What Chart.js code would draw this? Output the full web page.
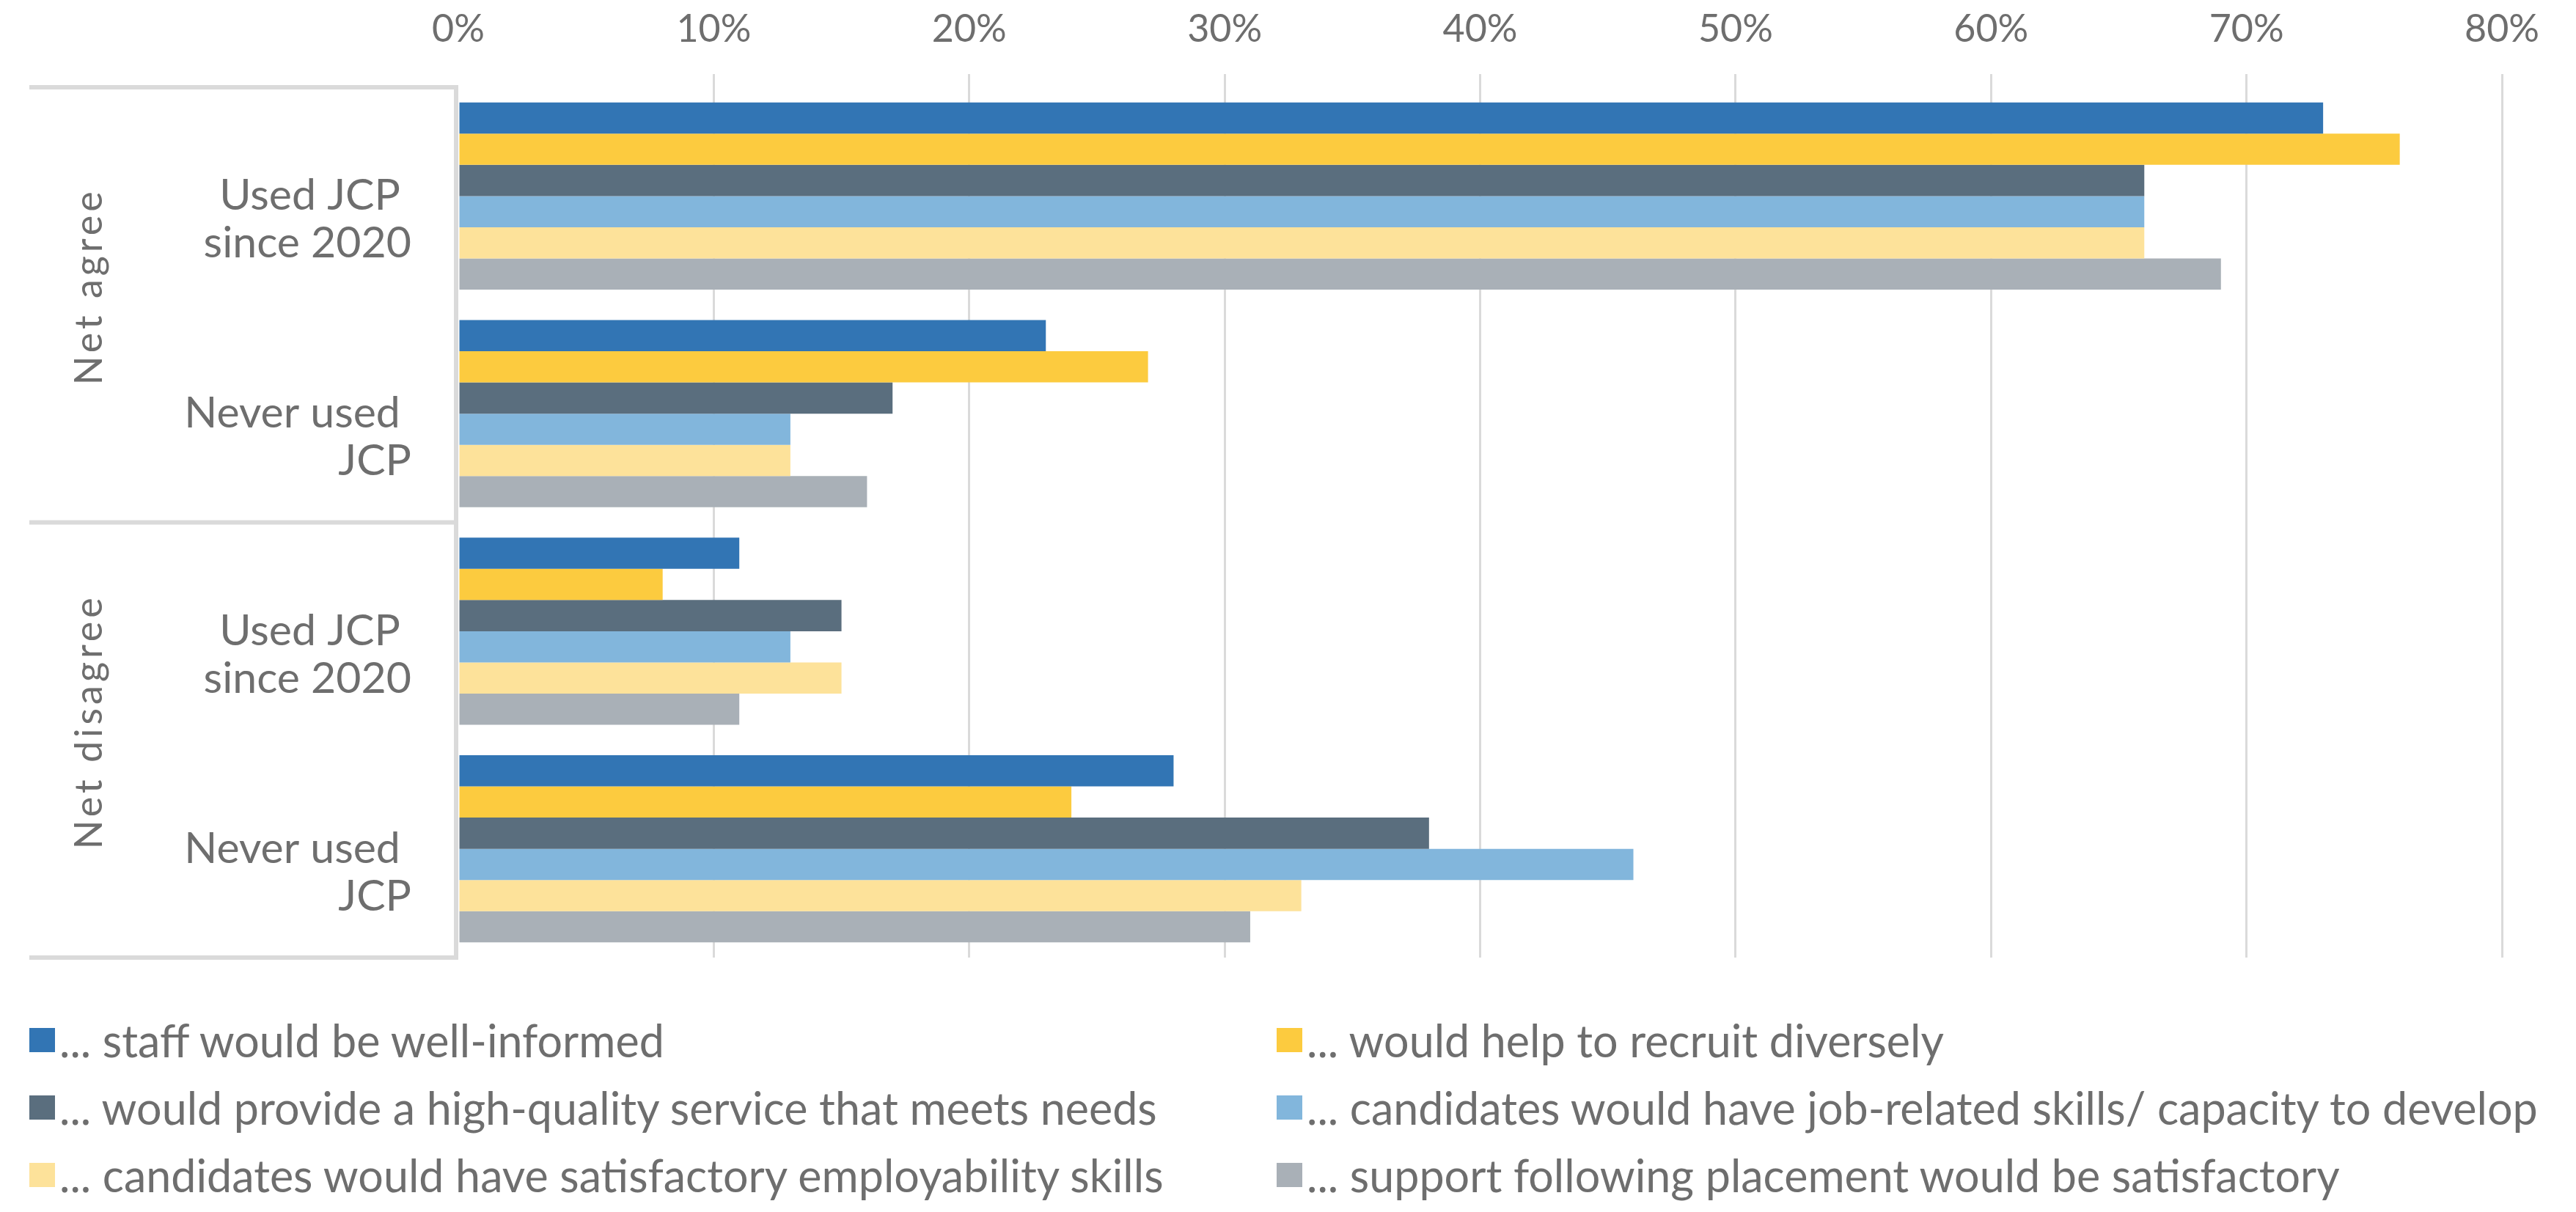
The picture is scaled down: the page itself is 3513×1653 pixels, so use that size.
<!DOCTYPE html>
<html>
<head>
<meta charset="utf-8">
<script src="https://cdn.jsdelivr.net/npm/chart.js@4.4.0/dist/chart.umd.min.js"></script>
<style>
    html, body { margin: 0; padding: 0; background: #fff; }
    body { width: 3513px; height: 1653px; position: relative; overflow: hidden; font-family: Lato, 'Open Sans', sans-serif; }
    #wrap { position: absolute; left: 0; top: 0; width: 3513px; height: 1320px; }
    #legend { position: absolute; left: 40px; top: 1372px; display: grid; grid-template-columns: 1701px auto; }
    .item { display: flex; align-items: center; height: 92px; font-size: 61px; color: #6e6e6e; white-space: nowrap; }
    .box { width: 35px; height: 33px; margin-right: 6px; flex: none; }
</style>
</head>
<body>
<div id="wrap"><canvas id="chart"></canvas></div>
<div id="legend"></div>
<script>
const categories = [['Used JCP ', 'since 2020'], ['Never used ', 'JCP'], ['Used JCP ', 'since 2020'], ['Never used ', 'JCP']];
const groupLabels = ['Net agree', 'Net disagree'];
const seriesNames = [
    '... staff would be well-informed',
    '... would help to recruit diversely',
    '... would provide a high-quality service that meets needs',
    '... candidates would have job-related skills/ capacity to develop',
    '... candidates would have satisfactory employability skills',
    '... support following placement would be satisfactory'
];
const staffInformed = [73, 23, 11, 28];
const recruitDiversely = [76, 27, 8, 24];
const highQuality = [66, 17, 15, 38];
const jobSkills = [66, 13, 13, 46];
const employability = [66, 13, 15, 33];
const supportAfter = [69, 16, 11, 31];
const xTicks = [0, 10, 20, 30, 40, 50, 60, 70, 80];
const colors = ['#3275b4', '#fccb3f', '#5a6e7e', '#82b6dc', '#fde29a', '#a9b0b7'];

const seriesValues = [staffInformed, recruitDiversely, highQuality, jobSkills, employability, supportAfter];
const textColor = '#6e6e6e';
const lineColor = '#dadada';
const fontFamily = 'Lato, "Open Sans", sans-serif';

// box lines on the left + rotated group labels
const groupBox = {
    id: 'groupBox',
    afterDraw(chart) {
        const { ctx, chartArea, scales } = chart;
        const y = scales.y;
        const top = y.getPixelForValue(-0.5);
        const mid = y.getPixelForValue(1.5);
        const bottom = y.getPixelForValue(3.5);
        const left = 40;
        const right = chartArea.left - 3;
        ctx.save();
        ctx.strokeStyle = lineColor;
        ctx.lineWidth = 6;
        ctx.beginPath();
        [top, mid, bottom].forEach(py => {
            ctx.moveTo(left, py);
            ctx.lineTo(right, py);
        });
        ctx.moveTo(right, top - 3);
        ctx.lineTo(right, bottom + 3);
        ctx.stroke();

        ctx.fillStyle = textColor;
        ctx.font = '52px ' + fontFamily;
        ctx.letterSpacing = '5px';
        ctx.textAlign = 'center';
        ctx.textBaseline = 'middle';
        [[top, mid], [mid, bottom]].forEach(([a, b], i) => {
            ctx.save();
            ctx.translate(122, (a + b) / 2 - 25);
            ctx.rotate(-Math.PI / 2);
            ctx.fillText(groupLabels[i], 0, 0);
            ctx.restore();
        });
        ctx.restore();
    }
};

const chart = new Chart(document.getElementById('chart'), {
    type: 'bar',
    data: {
        labels: categories,
        datasets: seriesNames.map((name, i) => ({
            label: name,
            data: seriesValues[i],
            backgroundColor: colors[i],
            borderWidth: 0,
            barPercentage: 1,
            categoryPercentage: 0.86
        }))
    },
    options: {
        indexAxis: 'y',
        responsive: true,
        maintainAspectRatio: false,
        animation: false,
        layout: { padding: { left: 0, right: 101, top: 0, bottom: 14 } },
        plugins: {
            legend: { display: false },
            tooltip: { enabled: false }
        },
        scales: {
            x: {
                position: 'top',
                min: 0,
                max: 80,
                afterBuildTicks: scale => { scale.ticks = xTicks.map(v => ({ value: v })); },
                afterFit: scale => { scale.height = 119; },
                border: { display: false },
                grid: {
                    color: ctx => ctx.tick && ctx.tick.value === 0 ? 'rgba(0,0,0,0)' : lineColor,
                    lineWidth: 3,
                    drawTicks: true,
                    tickLength: 18
                },
                ticks: {
                    padding: 30,
                    color: textColor,
                    font: { family: fontFamily, size: 52 },
                    callback: v => v + '%'
                }
            },
            y: {
                afterFit: scale => {
                    scale.width = 625;
                    scale.paddingTop = 0;
                    scale.paddingBottom = 0;
                },
                border: { display: false },
                grid: { display: false, drawTicks: false },
                ticks: {
                    padding: 64,
                    color: textColor,
                    font: { family: fontFamily, size: 59, lineHeight: 1.1 },
                    callback: function (v, i) { return [''].concat(categories[i]); }
                }
            }
        }
    },
    plugins: [groupBox]
});

const legend = document.getElementById('legend');
chart.data.datasets.forEach(ds => {
    const item = document.createElement('div');
    item.className = 'item';
    const box = document.createElement('span');
    box.className = 'box';
    box.style.background = ds.backgroundColor;
    const txt = document.createElement('span');
    txt.textContent = ds.label;
    item.appendChild(box);
    item.appendChild(txt);
    legend.appendChild(item);
});
</script>
</body>
</html>
